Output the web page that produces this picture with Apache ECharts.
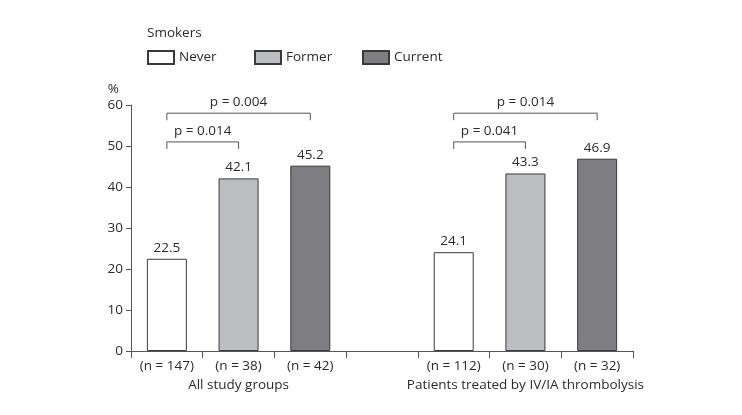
<!DOCTYPE html>
<html>
<head>
<meta charset="utf-8">
<script src="https://cdn.jsdelivr.net/npm/echarts@6/dist/echarts.min.js"></script>
<style>
  html, body { margin: 0; padding: 0; background: #fff; }
  #chart { width: 742px; height: 415px; }
</style>
</head>
<body>
<div id="chart"></div>
<script>
  // categories on the x axis (index 3 is the empty gap between the two groups)
  var categories = ['(n = 147)', '(n = 38)', '(n = 42)', '', '(n = 112)', '(n = 30)', '(n = 32)'];
  var groupLabels = ['', 'All study groups', '', '', '', 'Patients treated by IV/IA thrombolysis', ''];

  var smokerTypes = ['Never', 'Former', 'Current'];
  var neverVals = [22.5, '-', '-', '-', 24.1, '-', '-'];
  var formerVals = ['-', 42.1, '-', '-', '-', 43.3, '-'];
  var currentVals = ['-', '-', 45.2, '-', '-', '-', 46.9];

  // significance brackets
  var pFrom = [0, 0, 4, 4];
  var pTo = [1, 2, 5, 6];
  var pLevel = [51, 58, 51, 58];
  var pText = ['p = 0.014', 'p = 0.004', 'p = 0.041', 'p = 0.014'];

  var font = 'Open Sans';
  var fontSize = 13.5;
  var textColor = '#2b2b2b';
  var lineColor = '#555';

  var myChart = echarts.init(document.getElementById('chart'));

  var bracketData = pFrom.map(function (a, i) {
    return [pFrom[i], pTo[i], pLevel[i], pText[i]];
  });

  function barSeries(name, vals, color) {
    return {
      name: name,
      type: 'bar',
      data: vals,
      barWidth: 40,
      barGap: '-100%',
      itemStyle: {
        color: color,
        borderColor: '#3a3a3a',
        borderWidth: 1
      },
      label: {
        show: true,
        position: 'top',
        distance: 4,
        color: textColor,
        fontFamily: font,
        fontSize: fontSize
      }
    };
  }

  var legendLeft = [142, 249, 357];
  var legends = smokerTypes.map(function (name, i) {
    return {
      left: legendLeft[i],
      top: 45,
      itemWidth: 26,
      itemHeight: 13,
      icon: 'rect',
      data: [name],
      textStyle: {
        fontFamily: font,
        fontSize: fontSize,
        color: textColor
      }
    };
  });

  myChart.setOption({
    animation: false,
    title: {
      text: 'Smokers',
      left: 142,
      top: 21,
      textStyle: {
        fontFamily: font,
        fontSize: fontSize,
        fontWeight: 'normal',
        color: textColor
      }
    },
    legend: legends,
    grid: {
      left: 131,
      right: 109,
      top: 105,
      bottom: 64
    },
    xAxis: {
      type: 'category',
      data: categories,
      axisLine: { lineStyle: { color: lineColor } },
      axisTick: { show: true, interval: 0, length: 7, lineStyle: { color: lineColor } },
      axisLabel: {
        interval: 0,
        margin: 6,
        color: textColor,
        fontFamily: font,
        fontSize: fontSize,
        lineHeight: 19,
        formatter: function (v, i) {
          return groupLabels[i] ? v + '\n' + groupLabels[i] : v;
        }
      }
    },
    yAxis: {
      type: 'value',
      min: 0,
      max: 60,
      interval: 10,
      name: '%',
      nameLocation: 'end',
      nameGap: 9,
      nameTextStyle: {
        align: 'right',
        padding: [0, 12, 0, 0],
        color: textColor,
        fontFamily: font,
        fontSize: fontSize
      },
      axisLine: { show: true, lineStyle: { color: lineColor } },
      axisTick: { show: true, length: 5, lineStyle: { color: lineColor } },
      splitLine: { show: false },
      axisLabel: {
        margin: 8,
        color: textColor,
        fontFamily: font,
        fontSize: fontSize
      }
    },
    series: [
      barSeries('Never', neverVals, '#ffffff'),
      barSeries('Former', formerVals, '#bdbec2'),
      barSeries('Current', currentVals, '#7e7e82'),
      {
        type: 'custom',
        data: bracketData,
        silent: true,
        renderItem: function (params, api) {
          var p1 = api.coord([api.value(0), api.value(2)]);
          var p2 = api.coord([api.value(1), api.value(2)]);
          var drop = 7;
          return {
            type: 'group',
            children: [{
              type: 'polyline',
              shape: {
                points: [[p1[0], p1[1] + drop], [p1[0], p1[1]], [p2[0], p2[1]], [p2[0], p2[1] + drop]]
              },
              style: { stroke: lineColor, lineWidth: 1, fill: null }
            }, {
              type: 'text',
              x: (p1[0] + p2[0]) / 2,
              y: p1[1] - 4,
              style: {
                text: bracketData[params.dataIndex][3],
                align: 'center',
                verticalAlign: 'bottom',
                fill: textColor,
                font: fontSize + 'px "' + font + '"'
              }
            }]
          };
        }
      }
    ]
  });
</script>
</body>
</html>
